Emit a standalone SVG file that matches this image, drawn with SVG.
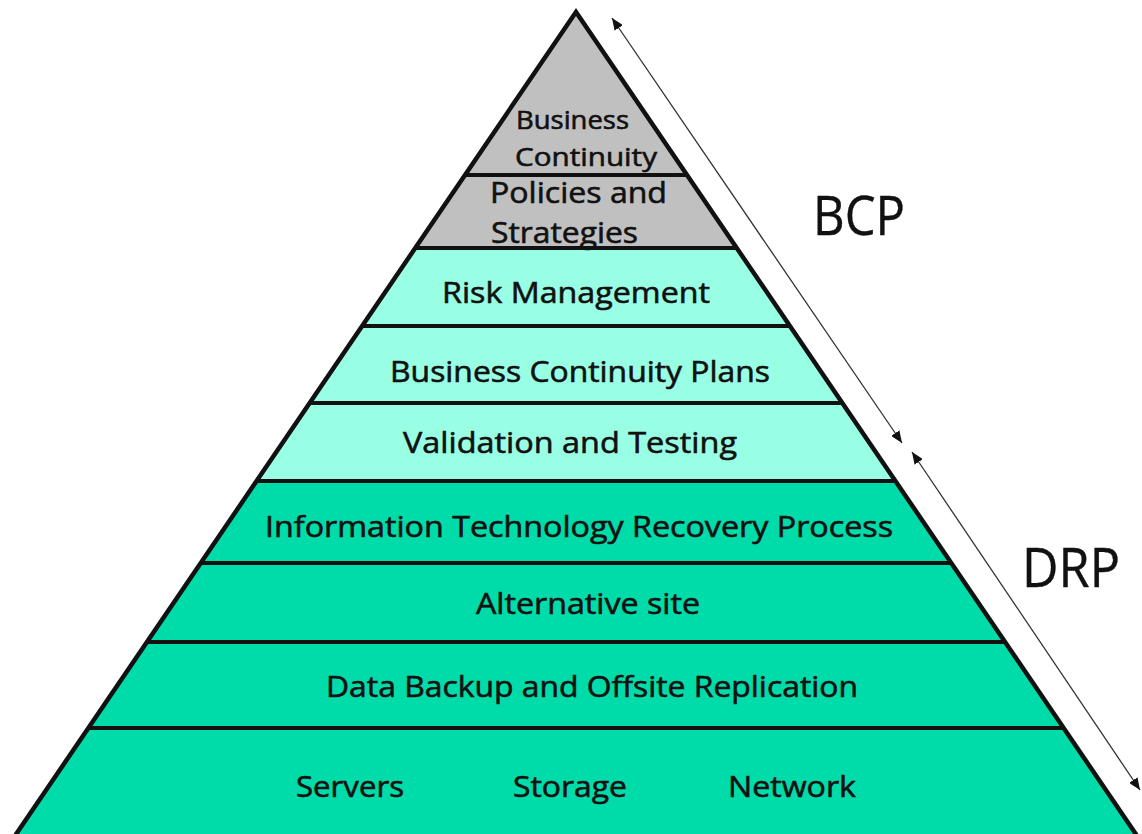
<svg xmlns="http://www.w3.org/2000/svg" width="1142" height="834" viewBox="0 0 1142 834">
  <style>
    .gray { fill: #c0c0c0; }
    .light { fill: #99ffe4; }
    .dark { fill: #00dbaa; }
    .lbl { font-family: "Open Sans", "Noto Sans", "Liberation Sans", sans-serif; fill: #111; stroke: #111; stroke-width: 0.6; text-anchor: middle; }
    .l30 { font-size: 30px; }
    .l26 { font-size: 26px; }
    .big { font-family: "Open Sans", "Noto Sans", "Liberation Sans", sans-serif; font-size: 55px; fill: #111; stroke: #111; stroke-width: 0.4; }
    .rule { stroke: #111; stroke-width: 4; fill: none; }
    .edge { stroke: #111; stroke-width: 4.5; fill: none; }
    .conn { stroke: #333; stroke-width: 1.3; fill: none; }
  </style>
  <defs>
    <marker id="head" markerUnits="userSpaceOnUse" markerWidth="12" markerHeight="10" refX="12" refY="5" orient="auto-start-reverse">
      <path d="M0,0 L12,5 L0,10 z" fill="#111"/>
    </marker>
  </defs>
  <rect width="1142" height="834" fill="#ffffff"/>

  <!-- pyramid bands, top to bottom -->
  <g id="layer-apex">
    <polygon class="gray" points="576,12 687,175 465,175"/>
  </g>
  <g id="layer-policies">
    <polygon class="gray" points="465,175 687,175 736.7,248 415.3,248"/>
  </g>
  <g id="layer-risk">
    <polygon class="light" points="415.3,248 736.7,248 789.8,326 362.2,326"/>
  </g>
  <g id="layer-bcplans">
    <polygon class="light" points="362.2,326 789.8,326 842.3,403 309.7,403"/>
  </g>
  <g id="layer-validation">
    <polygon class="light" points="309.7,403 842.3,403 895.4,481 256.6,481"/>
  </g>
  <g id="layer-itrecovery">
    <polygon class="dark" points="256.6,481 895.4,481 951.2,563 200.8,563"/>
  </g>
  <g id="layer-altsite">
    <polygon class="dark" points="200.8,563 951.2,563 1005,642 147,642"/>
  </g>
  <g id="layer-backup">
    <polygon class="dark" points="147,642 1005,642 1063.6,728 88.4,728"/>
  </g>
  <g id="layer-infra">
    <polygon class="dark" points="88.4,728 1063.6,728 1139.9,840 12.1,840"/>
  </g>

  <!-- band dividers and outline -->
  <g id="frame">
    <line class="rule" x1="465" y1="175" x2="687" y2="175"/>
    <line class="rule" x1="415.3" y1="248" x2="736.7" y2="248"/>
    <line class="rule" x1="362.2" y1="326" x2="789.8" y2="326"/>
    <line class="rule" x1="309.7" y1="403" x2="842.3" y2="403"/>
    <line class="rule" x1="256.6" y1="481" x2="895.4" y2="481"/>
    <line class="rule" x1="200.8" y1="563" x2="951.2" y2="563"/>
    <line class="rule" x1="147" y1="642" x2="1005" y2="642"/>
    <line class="rule" x1="88.4" y1="728" x2="1063.6" y2="728"/>
    <polyline class="edge" stroke-linejoin="miter" points="12.1,840 576,12 1139.9,840"/>
  </g>

  <!-- band labels -->
  <g id="labels">
    <text class="lbl l26" x="572.5" y="129" textLength="113" lengthAdjust="spacingAndGlyphs">Business</text>
    <text class="lbl l26" x="586" y="166" textLength="142" lengthAdjust="spacingAndGlyphs">Continuity</text>
    <text class="lbl l30" x="578.5" y="203" textLength="177" lengthAdjust="spacingAndGlyphs">Policies and</text>
    <text class="lbl l30" x="564.5" y="243" textLength="147" lengthAdjust="spacingAndGlyphs">Strategies</text>
    <text class="lbl l30" x="576" y="303" textLength="268" lengthAdjust="spacingAndGlyphs">Risk Management</text>
    <text class="lbl l30" x="580" y="382" textLength="380" lengthAdjust="spacingAndGlyphs">Business Continuity Plans</text>
    <text class="lbl l30" x="570" y="453" textLength="334" lengthAdjust="spacingAndGlyphs">Validation and Testing</text>
    <text class="lbl l30" x="579" y="537" textLength="628" lengthAdjust="spacingAndGlyphs">Information Technology Recovery Process</text>
    <text class="lbl l30" x="588" y="614" textLength="224" lengthAdjust="spacingAndGlyphs">Alternative site</text>
    <text class="lbl l30" x="592" y="697" textLength="532" lengthAdjust="spacingAndGlyphs">Data Backup and Offsite Replication</text>
    <text class="lbl l30" x="350" y="797" textLength="108" lengthAdjust="spacingAndGlyphs">Servers</text>
    <text class="lbl l30" x="570" y="797" textLength="114" lengthAdjust="spacingAndGlyphs">Storage</text>
    <text class="lbl l30" x="792" y="797" textLength="128" lengthAdjust="spacingAndGlyphs">Network</text>
  </g>

  <!-- span arrows -->
  <g id="connectors">
    <line class="conn" x1="612" y1="18" x2="902" y2="443" marker-start="url(#head)" marker-end="url(#head)"/>
    <line class="conn" x1="912" y1="452" x2="1140" y2="790" marker-start="url(#head)" marker-end="url(#head)"/>
  </g>

  <g id="bcp">
    <text class="big" x="813" y="235" textLength="92" lengthAdjust="spacingAndGlyphs">BCP</text>
  </g>
  <g id="drp">
    <text class="big" x="1022" y="587" textLength="98" lengthAdjust="spacingAndGlyphs">DRP</text>
  </g>
</svg>
